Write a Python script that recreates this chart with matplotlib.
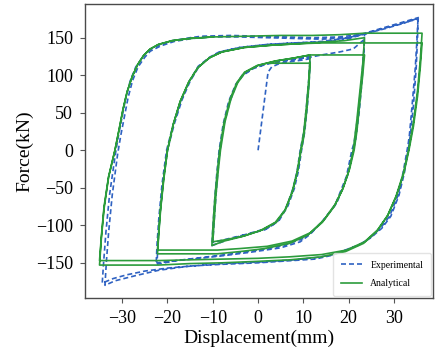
import matplotlib
matplotlib.use("Agg")
import matplotlib.pyplot as plt

plt.rcParams['font.family'] = ['Liberation Serif', 'DejaVu Serif']

# ---------------- Experimental (dashed) branches ----------------
exp_init_x = [0, 0.8, 1.6, 2.2, 3.0, 4.5, 7.0, 9.5, 11.5]
exp_init_y = [0, 38, 75, 104, 111, 115, 118, 120, 122]

exp_s1d_x = [11.5, 11.2, 10.7, 10.1, 9.3, 8.6, 7.7, 6.3, 4.2, 1.5, -1.8, -6.0, -10.0]
exp_s1d_y = [122, 95, 60, 25, 0, -28, -51, -75, -96, -106, -111, -117, -123]
exp_s1u_x = [-10.0, -9.7, -9.3, -8.9, -8.4, -7.5, -6.2, -4.8, -3.3, -1.0, 2.0, 6.0, 9.3, 11.5]
exp_s1u_y = [-123, -95, -60, -30, 0, 35, 65, 88, 100, 109, 115, 119, 122, 125]
exp_s2d_x = [11.5, 11.3, 10.9, 10.3, 9.6, 8.9, 8.0, 6.6, 4.6, 2.0, -1.5, -6.0, -10.2]
exp_s2d_y = [125, 95, 60, 25, 0, -28, -51, -74, -94, -104, -110, -118, -127]
exp_s2u_x = [-10.2, -9.9, -9.5, -9.1, -8.6, -7.7, -6.5, -5.0, -3.5, -1.0, 3.0, 7.0, 11.5, 14.0, 18.0, 21.0, 23.5]
exp_s2u_y = [-127, -95, -60, -30, 0, 35, 65, 87, 100, 110, 117, 121, 124, 127, 131, 135, 148]

exp_m1d_x = [23.5, 23.2, 22.7, 22.0, 21.2, 20.7, 19.5, 17.0, 14.0, 11.5, 9.3, 5.0, -1.8, -7.0, -12.8, -18.0, -22.3]
exp_m1d_y = [148, 120, 85, 45, 10, 0, -35, -73, -96, -112, -122, -130, -136, -140, -144, -147, -150]
exp_m1u_x = [-22.3, -22.1, -21.7, -21.0, -20.0, -18.5, -16.8, -15.0, -13.0, -10.5, -8.4, -4.0, 2.0, 8.0, 13.7, 19.0, 23.5]
exp_m1u_y = [-150, -125, -90, -45, 0, 35, 67, 92, 112, 124, 131, 137, 141, 143, 144, 147, 155]
exp_m2d_x = [23.5, 23.3, 22.9, 22.3, 21.5, 21.0, 19.8, 17.4, 14.5, 12.0, 9.8, 5.5, -1.0, -7.0, -12.5, -18.0, -22.5]
exp_m2d_y = [155, 125, 90, 50, 12, 0, -33, -70, -93, -108, -118, -127, -134, -139, -143, -147, -152]
exp_m2u_x = [-22.5, -22.3, -21.9, -21.2, -20.2, -18.7, -17.0, -15.2, -13.2, -10.7, -8.6, -4.0, 2.0, 8.0, 14.0, 19.0, 23.5, 28.0, 32.0, 35.3]
exp_m2u_y = [-152, -125, -90, -45, 0, 35, 67, 92, 112, 124, 131, 137, 141, 143, 145, 149, 155, 162, 169, 176]

exp_l1d_x = [35.3, 35.1, 34.7, 34.0, 33.4, 33.1, 32.0, 30.9, 29.0, 27.0, 24.5, 22.0, 16.3, 12.6, 7.7, 0.0, -8.0, -14.3, -20.0, -25.0, -29.0, -32.0, -34.4]
exp_l1d_y = [176, 150, 110, 60, 20, 7, -30, -60, -88, -104, -118, -127, -140, -145, -147, -150, -152, -154, -157, -161, -166, -171, -177]
exp_l1u_x = [-34.4, -34.1, -33.6, -32.8, -31.5, -30.8, -30.0, -29.2, -28.2, -27.0, -25.5, -24.3, -22.0, -19.0, -15.0, -12.4, -6.0, 0.0, 6.0, 12.0, 18.0, 23.6, 27.0, 31.0, 35.3]
exp_l1u_y = [-177, -150, -110, -60, -5, 20, 45, 70, 93, 111, 124, 133, 140, 146, 150, 152, 153, 152, 151, 150, 151, 155, 161, 168, 175]
exp_l2d_x = [35.3, 35.2, 34.9, 34.3, 33.6, 33.3, 32.3, 31.1, 29.3, 27.3, 24.8, 22.3, 16.6, 12.8, 8.0, 0.0, -8.0, -16.0, -22.0, -27.0, -31.6, -33.8]
exp_l2d_y = [175, 150, 110, 60, 20, 7, -30, -60, -88, -104, -117, -126, -139, -143, -146, -149, -151, -155, -160, -167, -174, -180]
exp_l2u_x = [-33.8, -33.5, -33.0, -32.2, -31.0, -30.3, -29.5, -28.7, -27.7, -26.5, -25.0, -23.8, -21.5, -18.5, -14.5, -10.0, -4.0, 2.0, 8.0, 14.0, 20.0, 23.6, 27.0, 31.0, 35.5]
exp_l2u_y = [-180, -150, -110, -60, -5, 20, 45, 70, 93, 111, 124, 132, 139, 145, 149, 151, 151, 150, 149, 148, 150, 156, 162, 169, 177]

# ---------------- Analytical (solid) branches ----------------
ana_init_x = [2.6, 11.5]
ana_init_y = [116, 116]
ana_s1d_x = [11.5, 11.2, 10.7, 10.1, 9.5, 8.7, 7.6, 6.0, 4.0, 1.0, -3.0, -7.0, -10.0]
ana_s1d_y = [116, 85, 50, 18, 0, -28, -55, -80, -96, -106, -114, -119, -122]
ana_s1u_x = [-10.0, -9.7, -9.3, -8.8, -8.3, -7.3, -6.0, -4.5, -2.8, 0.0, 4.0, 8.0, 11.5]
ana_s1u_y = [-122, -95, -60, -28, 0, 38, 68, 90, 104, 113, 119, 123, 127]
ana_s2d_x = [11.5, 11.2, 10.7, 10.1, 9.4, 8.6, 7.5, 5.9, 3.8, 0.5, -3.5, -7.5, -10.2]
ana_s2d_y = [127, 95, 60, 25, 0, -30, -56, -80, -96, -107, -115, -121, -127]
ana_s2u_x = [-10.2, -9.9, -9.5, -9.0, -8.5, -7.5, -6.2, -4.7, -3.0, -0.2, 3.8, 8.0, 11.5, 23.5]
ana_s2u_y = [-127, -95, -60, -28, 0, 38, 68, 90, 104, 113, 119, 123, 127, 127]

ana_m1d_x = [23.5, 23.1, 22.5, 21.8, 21.2, 20.2, 18.8, 17.0, 14.5, 11.5, 7.5, 2.0, -4.0, -9.0, -22.2]
ana_m1d_y = [127, 100, 65, 25, 0, -25, -50, -72, -93, -110, -121, -128, -131, -133, -133]
ana_m1u_x = [-22.2, -21.9, -21.5, -20.8, -20.0, -18.7, -17.2, -15.3, -13.3, -10.8, -8.0, -3.0, 3.0, 9.0, 14.0, 19.0, 23.5]
ana_m1u_y = [-133, -105, -75, -35, 0, 35, 65, 91, 110, 123, 131, 137, 140, 142, 144, 146, 150]
ana_m2d_x = [23.5, 23.1, 22.5, 21.8, 21.0, 20.0, 18.6, 16.8, 14.2, 11.0, 7.0, 1.5, -4.0, -9.0, -22.2]
ana_m2d_y = [150, 115, 80, 40, 0, -28, -53, -75, -96, -113, -124, -131, -135, -138, -138]
ana_m2u_x = [-22.2, -21.9, -21.5, -20.8, -20.0, -18.7, -17.2, -15.3, -13.3, -10.8, -8.0, -3.0, 3.0, 9.0, 14.0, 19.0, 23.5, 36.2]
ana_m2u_y = [-138, -110, -78, -38, 0, 35, 65, 91, 110, 123, 131, 137, 140, 142, 143, 143, 143, 143]

ana_l1d_x = [36.2, 35.8, 35.2, 34.3, 33.3, 32.2, 30.6, 28.7, 26.4, 23.5, 19.5, 14.0, 7.0, 0.0, -8.0, -15.0, -22.0, -35.0]
ana_l1d_y = [143, 110, 72, 32, 0, -30, -60, -86, -106, -122, -133, -139, -142, -144, -145, -146, -147, -147]
ana_l1u_x = [-35.0, -34.6, -34.0, -33.0, -31.6, -30.6, -29.8, -28.9, -27.8, -26.6, -25.3, -23.8, -22.0, -19.0, -15.0, -10.0, -3.0, 5.0, 12.0, 18.0, 23.5, 36.2]
ana_l1u_y = [-147, -115, -75, -35, 0, 30, 55, 78, 98, 114, 126, 135, 141, 146, 149, 151, 152, 153, 153, 154, 156, 156]
ana_l2d_x = [36.2, 35.8, 35.2, 34.3, 33.2, 32.0, 30.4, 28.5, 26.2, 23.3, 19.3, 14.0, 7.0, 0.0, -8.0, -15.0, -22.0, -35.0]
ana_l2d_y = [156, 120, 80, 38, 0, -32, -62, -88, -108, -124, -135, -142, -146, -148, -150, -151, -153, -153]
ana_l2u_x = [-35.0, -34.6, -34.0, -33.0, -31.6, -30.6, -29.8, -28.9, -27.8, -26.6, -25.3, -23.8, -22.0, -19.0, -15.0, -10.0]
ana_l2u_y = [-153, -118, -78, -36, 0, 30, 55, 78, 98, 114, 126, 135, 141, 146, 149, 151]

x_ticks = [-30, -20, -10, 0, 10, 20, 30]
y_ticks = [-150, -100, -50, 0, 50, 100, 150]
series_labels = ["Experimental", "Analytical"]

exp_x = (exp_init_x + exp_s1d_x + exp_s1u_x + exp_s2d_x + exp_s2u_x + exp_m1d_x + exp_m1u_x
         + exp_m2d_x + exp_m2u_x + exp_l1d_x + exp_l1u_x + exp_l2d_x + exp_l2u_x)
exp_y = (exp_init_y + exp_s1d_y + exp_s1u_y + exp_s2d_y + exp_s2u_y + exp_m1d_y + exp_m1u_y
         + exp_m2d_y + exp_m2u_y + exp_l1d_y + exp_l1u_y + exp_l2d_y + exp_l2u_y)
ana_x = (ana_init_x + ana_s1d_x + ana_s1u_x + ana_s2d_x + ana_s2u_x + ana_m1d_x + ana_m1u_x
         + ana_m2d_x + ana_m2u_x + ana_l1d_x + ana_l1u_x + ana_l2d_x + ana_l2u_x)
ana_y = (ana_init_y + ana_s1d_y + ana_s1u_y + ana_s2d_y + ana_s2u_y + ana_m1d_y + ana_m1u_y
         + ana_m2d_y + ana_m2u_y + ana_l1d_y + ana_l1u_y + ana_l2d_y + ana_l2u_y)

fig = plt.figure(figsize=(4.36, 3.57), dpi=100)
ax = fig.add_axes([0.195, 0.165, 0.798, 0.824])

ax.plot(exp_x, exp_y, linestyle=(0, (3.0, 1.8)), color='#2f62c2', lw=1.2, label=series_labels[0])
ax.plot(ana_x, ana_y, linestyle='-', color='#2c9c3c', lw=1.2, label=series_labels[1])

ax.set_xlim(-38.2, 38.6)
ax.set_ylim(-197, 195)
ax.set_xticks(x_ticks)
ax.set_yticks(y_ticks)
ax.tick_params(labelsize=13, length=3.5, width=0.8, color='#555555', pad=5)
for s in ax.spines.values():
    s.set_color('#4a4a4a')
    s.set_linewidth(1.0)
ax.set_xlabel("Displacement(mm)", fontsize=14, labelpad=2)
ax.set_ylabel("Force(kN)", fontsize=14, labelpad=2)

leg = ax.legend(loc='lower right', fontsize=7, frameon=True, handlelength=2.2,
                borderpad=0.8, labelspacing=1.0, borderaxespad=0.2)
leg.get_frame().set_edgecolor('#dddddd')

fig.savefig("out.png", dpi=100)
